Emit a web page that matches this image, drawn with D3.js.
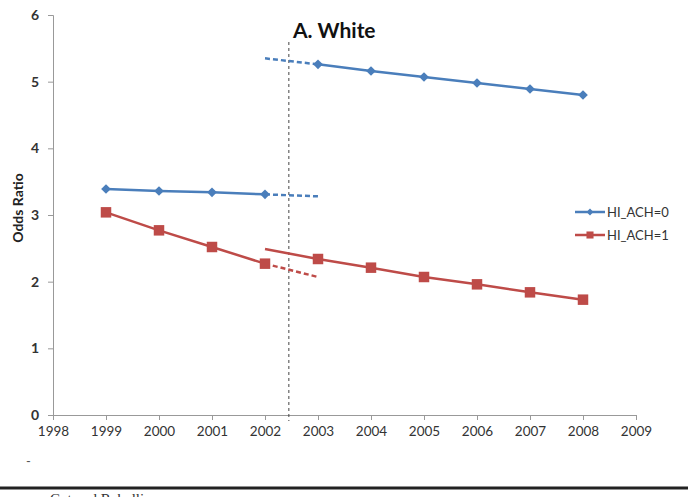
<!DOCTYPE html>
<html>
<head>
<meta charset="utf-8">
<script src="https://cdn.jsdelivr.net/npm/d3@7"></script>
<style>
  body { margin: 0; background: #fff; }
  svg { display: block; }
</style>
</head>
<body>
<div id="chart"></div>
<script>
// values
const preYears = [1999, 2000, 2001, 2002];
const postYears = [2003, 2004, 2005, 2006, 2007, 2008];
const hi0Pre = [3.39, 3.36, 3.34, 3.31];
const hi0Post = [5.26, 5.16, 5.07, 4.98, 4.89, 4.80];
const hi1Pre = [3.04, 2.77, 2.52, 2.27];
const hi1Post = [2.34, 2.21, 2.07, 1.96, 1.84, 1.73];
// projections across the 2002/2003 break
const hi0PreExt = [[2002, 3.31], [2003, 3.28]];
const hi0PostExt = [[2002, 5.35], [2003, 5.26]];
const hi1PreExt = [[2002, 2.27], [2003, 2.07]];
const hi1PostExt = [[2002, 2.49], [2003, 2.34]];
const breakYear = 2002.45;
const yTicks = [0, 1, 2, 3, 4, 5, 6];
const xTicks = d3.range(1998, 2010);
const seriesNames = ['HI_ACH=0', 'HI_ACH=1'];

const colors = { blue: '#4a7ebb', red: '#be4b48' };
const width = 688, height = 497;
const margin = { top: 15, right: 52, bottom: 82, left: 53 };

const svg = d3.select('#chart').append('svg')
    .attr('width', width).attr('height', height);

const x = d3.scaleLinear().domain([1998, 2009]).range([margin.left, width - margin.right]);
const y = d3.scaleLinear().domain([0, 6]).range([height - margin.bottom, margin.top]);

const font = 'Lato, "Open Sans", sans-serif';

// y axis
const yAxis = svg.append('g')
    .attr('transform', `translate(${margin.left},0)`)
    .call(d3.axisLeft(y).tickValues(yTicks).tickFormat(d3.format('d')).tickSize(5).tickPadding(9));
yAxis.selectAll('text').attr('font-family', font).attr('font-size', 14)
    .attr('font-weight', 'bold').attr('fill', '#333');

// x axis
const xAxis = svg.append('g')
    .attr('transform', `translate(0,${y(0)})`)
    .call(d3.axisBottom(x).tickValues(xTicks).tickFormat(d3.format('d')).tickSize(5).tickPadding(6));
xAxis.selectAll('text').attr('font-family', font).attr('font-size', 13.5).attr('fill', '#333');

[yAxis, xAxis].forEach(a => {
    a.select('.domain').attr('stroke', '#999');
    a.selectAll('.tick line').attr('stroke', '#999');
});

// break line
svg.append('line')
    .attr('x1', x(breakYear)).attr('x2', x(breakYear))
    .attr('y1', 42).attr('y2', y(0) + 6)
    .attr('stroke', '#444').attr('stroke-width', 1)
    .attr('stroke-dasharray', '3,3');

const line = d3.line().x(d => x(d[0])).y(d => y(d[1]));

function drawSeg(pts, color, dashed) {
    svg.append('path')
        .datum(pts)
        .attr('d', line)
        .attr('fill', 'none')
        .attr('stroke', color)
        .attr('stroke-width', 2.5)
        .attr('stroke-dasharray', dashed ? '5,3' : null);
}

const zip = (xs, ys) => xs.map((v, i) => [v, ys[i]]);

drawSeg(hi0PreExt, colors.blue, true);
drawSeg(hi0PostExt, colors.blue, true);
drawSeg(hi1PreExt, colors.red, true);
drawSeg(hi1PostExt, colors.red, false);
drawSeg(zip(preYears, hi0Pre), colors.blue, false);
drawSeg(zip(postYears, hi0Post), colors.blue, false);
drawSeg(zip(preYears, hi1Pre), colors.red, false);
drawSeg(zip(postYears, hi1Post), colors.red, false);

const diamond = d3.symbol().type(d3.symbolDiamond2).size(60);
const square = d3.symbol().type(d3.symbolSquare).size(110);

function drawMarks(pts, sym, color) {
    svg.append('g').selectAll('path')
        .data(pts)
        .join('path')
        .attr('transform', d => `translate(${x(d[0])},${y(d[1])})`)
        .attr('d', sym)
        .attr('fill', color);
}

drawMarks(zip(preYears, hi0Pre).concat(zip(postYears, hi0Post)), diamond, colors.blue);
drawMarks(zip(preYears, hi1Pre).concat(zip(postYears, hi1Post)), square, colors.red);

// legend
const legend = svg.append('g').attr('transform', 'translate(575,212)');
seriesNames.forEach((name, i) => {
    const g = legend.append('g').attr('transform', `translate(0,${i * 23})`);
    const c = i === 0 ? colors.blue : colors.red;
    g.append('line').attr('x1', 0).attr('x2', 30).attr('stroke', c).attr('stroke-width', 2.5);
    g.append('path').attr('transform', 'translate(15,0)')
        .attr('d', i === 0 ? d3.symbol().type(d3.symbolDiamond2).size(30)() : d3.symbol().type(d3.symbolSquare).size(50)())
        .attr('fill', c);
    g.append('text').attr('x', 32).attr('dy', '0.35em')
        .attr('font-family', font).attr('font-size', 13).attr('fill', '#333')
        .text(name);
});

// title
svg.append('text')
    .attr('x', 293).attr('y', 38)
    .attr('font-family', font).attr('font-size', 21).attr('font-weight', 'bold')
    .attr('fill', '#111')
    .text('A. White');

// y axis title
svg.append('text')
    .attr('transform', 'translate(23,208) rotate(-90)')
    .attr('text-anchor', 'middle')
    .attr('font-family', font).attr('font-size', 14).attr('font-weight', 'bold')
    .attr('fill', '#222')
    .text('Odds Ratio');

// page leftovers below the chart
svg.append('text')
    .attr('x', 26).attr('y', 466)
    .attr('font-family', font).attr('font-size', 13).attr('fill', '#555')
    .text('-');
svg.append('line')
    .attr('x1', 0).attr('x2', width).attr('y1', 488).attr('y2', 488)
    .attr('stroke', '#222').attr('stroke-width', 3);
svg.append('text')
    .attr('x', 50).attr('y', 504)
    .attr('font-family', '"Liberation Serif", serif').attr('font-size', 15).attr('fill', '#333')
    .text('Cut and Rebellion');
</script>
</body>
</html>
